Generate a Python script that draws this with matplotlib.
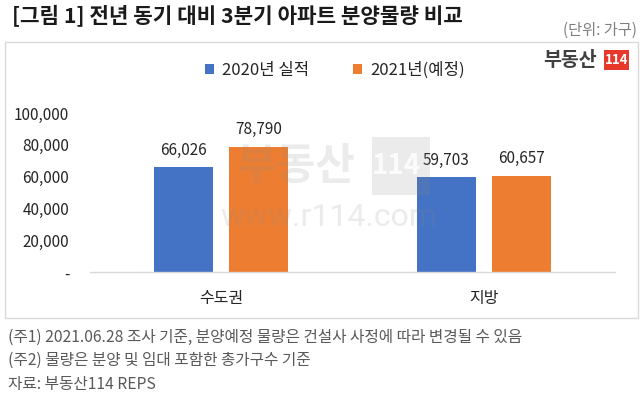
import matplotlib
matplotlib.use("Agg")
import matplotlib.pyplot as plt
from matplotlib.patches import Rectangle
from matplotlib.ticker import FuncFormatter

plt.rcParams['font.family'] = ['Noto Sans CJK KR', 'DejaVu Sans']

categories = ['수도권', '지방']
series_names = ['2020년 실적', '2021년(예정)']
values_2020 = [66026, 59703]
values_2021 = [78790, 60657]
yticks = [0, 20000, 40000, 60000, 80000, 100000]
title = '[그림 1] 전년 동기 대비 3분기 아파트 분양물량 비교'
unit = '(단위: 가구)'
notes = ['(주1) 2021.06.28 조사 기준, 분양예정 물량은 건설사 사정에 따라 변경될 수 있음',
         '(주2) 물량은 분양 및 임대 포함한 총가구수 기준',
         '자료: 부동산114 REPS']

W, H = 644, 397
fig = plt.figure(figsize=(W / 100, H / 100), dpi=100)

def fx(x):
    return x / W

def fy(y):
    return 1 - y / H

# chart frame
fig.add_artist(Rectangle((fx(5), fy(318)), fx(638) - fx(5), fy(42) - fy(318),
                         transform=fig.transFigure, fill=False,
                         edgecolor='#d9d9d9', lw=1.0))

ax = fig.add_axes([fx(90), fy(272), fx(615) - fx(90), fy(113) - fy(272)])
blue = '#4472C4'
orange = '#ED7D31'
off = 0.143
bw = 0.225
xs = list(range(len(categories)))
b1 = ax.bar([x - off for x in xs], values_2020, width=bw, color=blue, label=series_names[0], zorder=2)
b2 = ax.bar([x + off for x in xs], values_2021, width=bw, color=orange, label=series_names[1], zorder=2)
ax.bar_label(b1, labels=[f'{v:,}' for v in values_2020], padding=6, fontsize=11, color='#262626')
ax.bar_label(b2, labels=[f'{v:,}' for v in values_2021], padding=6, fontsize=11, color='#262626')

ax.set_xlim(-0.5, 1.5)
ax.set_ylim(0, 100000)
ax.set_yticks(yticks)
ax.yaxis.set_major_formatter(FuncFormatter(lambda v, p: '-' if v == 0 else f'{int(v):,}'))
ax.set_xticks(xs)
ax.set_xticklabels(categories)
ax.tick_params(axis='y', length=0, pad=15, labelsize=11, labelcolor='#262626')
ax.tick_params(axis='x', length=0, pad=13, labelsize=11.5, labelcolor='#262626')
for s in ['top', 'right', 'left']:
    ax.spines[s].set_visible(False)
ax.spines['bottom'].set_color('#d9d9d9')
ax.spines['bottom'].set_linewidth(1.0)
ax.patch.set_visible(False)

# legend
leg = fig.legend(handles=[b1, b2], loc='center', bbox_to_anchor=(fx(335), fy(70)),
                 ncol=2, frameon=False, fontsize=12, handlelength=0.55, handleheight=0.55,
                 handletextpad=0.5, columnspacing=2.6, labelcolor='#262626')

# title and unit
fig.text(fx(12), fy(15), title, fontsize=15.3, fontweight='bold', color='#1a1a1a',
         ha='left', va='center')
fig.text(fx(637), fy(30), unit, fontsize=11, color='#7f7f7f', ha='right', va='center')

# logo
fig.text(fx(543), fy(60), '부동산', fontsize=14, fontweight='bold', color='#404040',
         ha='left', va='center')
fig.add_artist(Rectangle((fx(604), fy(70)), fx(629) - fx(604), fy(50) - fy(70),
                         transform=fig.transFigure, facecolor='#e8382b', edgecolor='none'))
fig.text(fx(616.5), fy(60), '114', fontsize=9.5, fontweight='bold', color='white',
         ha='center', va='center')

# watermark
wm = '#8a8a8a'
wa = 0.17
fig.text(fx(296), fy(166), '부동산', fontsize=31, fontweight='bold', color=wm,
         alpha=wa, ha='center', va='center', zorder=5)
fig.add_artist(Rectangle((fx(372), fy(195)), fx(430) - fx(372), fy(137) - fy(195),
                         transform=fig.transFigure, facecolor=wm, edgecolor='none',
                         alpha=wa, zorder=5))
fig.text(fx(396), fy(166), '114', fontsize=20, fontweight='bold', color='white',
         ha='center', va='center', zorder=6, alpha=0.85)
fig.text(fx(329), fy(218), 'www.r114.com', fontsize=23, color=wm, alpha=wa,
         family='Roboto', ha='center', va='center', zorder=5)

# notes
for i, n in enumerate(notes):
    fig.text(fx(8), fy(337 + 23.5 * i), n, fontsize=11.3, color='#595959',
             ha='left', va='center')

fig.savefig('out.png', dpi=100)
